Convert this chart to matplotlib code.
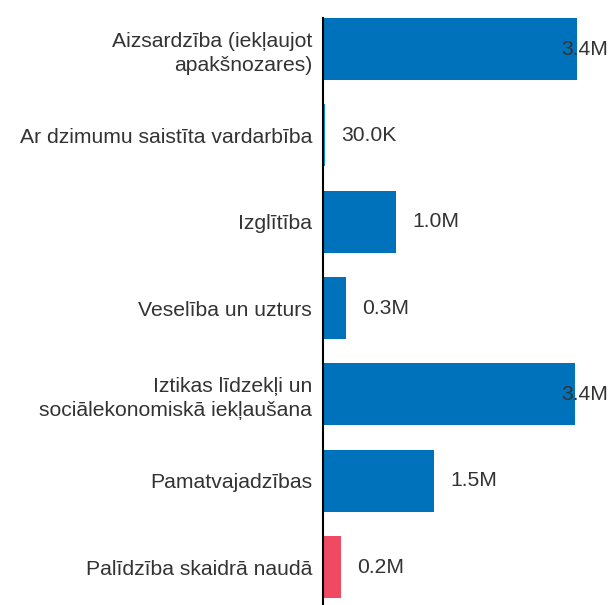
import matplotlib
matplotlib.use('Agg')
import matplotlib.pyplot as plt

plt.rcParams['font.family'] = ['Liberation Sans', 'DejaVu Sans']

# dati
categories = ['Aizsardzība (iekļaujot\napakšnozares)',
              'Ar dzimumu saistīta vardarbība',
              'Izglītība',
              'Veselība un uzturs',
              'Iztikas līdzekļi un\nsociālekonomiskā iekļaušana',
              'Pamatvajadzības',
              'Palīdzība skaidrā naudā']
values = [3.42, 0.03, 0.98, 0.31, 3.39, 1.50, 0.24]   # miljoni
value_labels = ['3.4M', '30.0K', '1.0M', '0.3M', '3.4M', '1.5M', '0.2M']
colors = ['#0072BC', '#0099D8', '#0072BC', '#0072BC', '#0072BC', '#0072BC', '#EF4A61']

fig = plt.figure(figsize=(6.15, 6.05), dpi=100)
ax = fig.add_axes([323/615, 0, 292/615, 1 - 18/605])

y = list(range(len(categories)))
ax.barh(y, values, height=0.72, color=colors)

xmax = 3.93
ax.set_xlim(0, xmax)
ax.set_ylim(6.44, -0.36)

fs = 15.2
for i, v in enumerate(values):
    if v + 0.25 + 0.6 > xmax:
        ax.text(xmax - 0.09, i, value_labels[i], ha='right', va='center',
                fontsize=fs, color='#333333')
    else:
        ax.text(v + 0.22, i, value_labels[i], ha='left', va='center',
                fontsize=fs, color='#333333')

ax.set_yticks(y)
ax.set_yticklabels(categories, fontsize=fs, color='#333333', ha='right',
                   multialignment='right', linespacing=1.3)
ax.tick_params(axis='y', length=0, pad=8)
ax.set_xticks([])
for s in ['top', 'right', 'bottom']:
    ax.spines[s].set_visible(False)
ax.spines['left'].set_linewidth(1.5)
ax.spines['left'].set_color('black')

plt.savefig('out.png', dpi=100)
